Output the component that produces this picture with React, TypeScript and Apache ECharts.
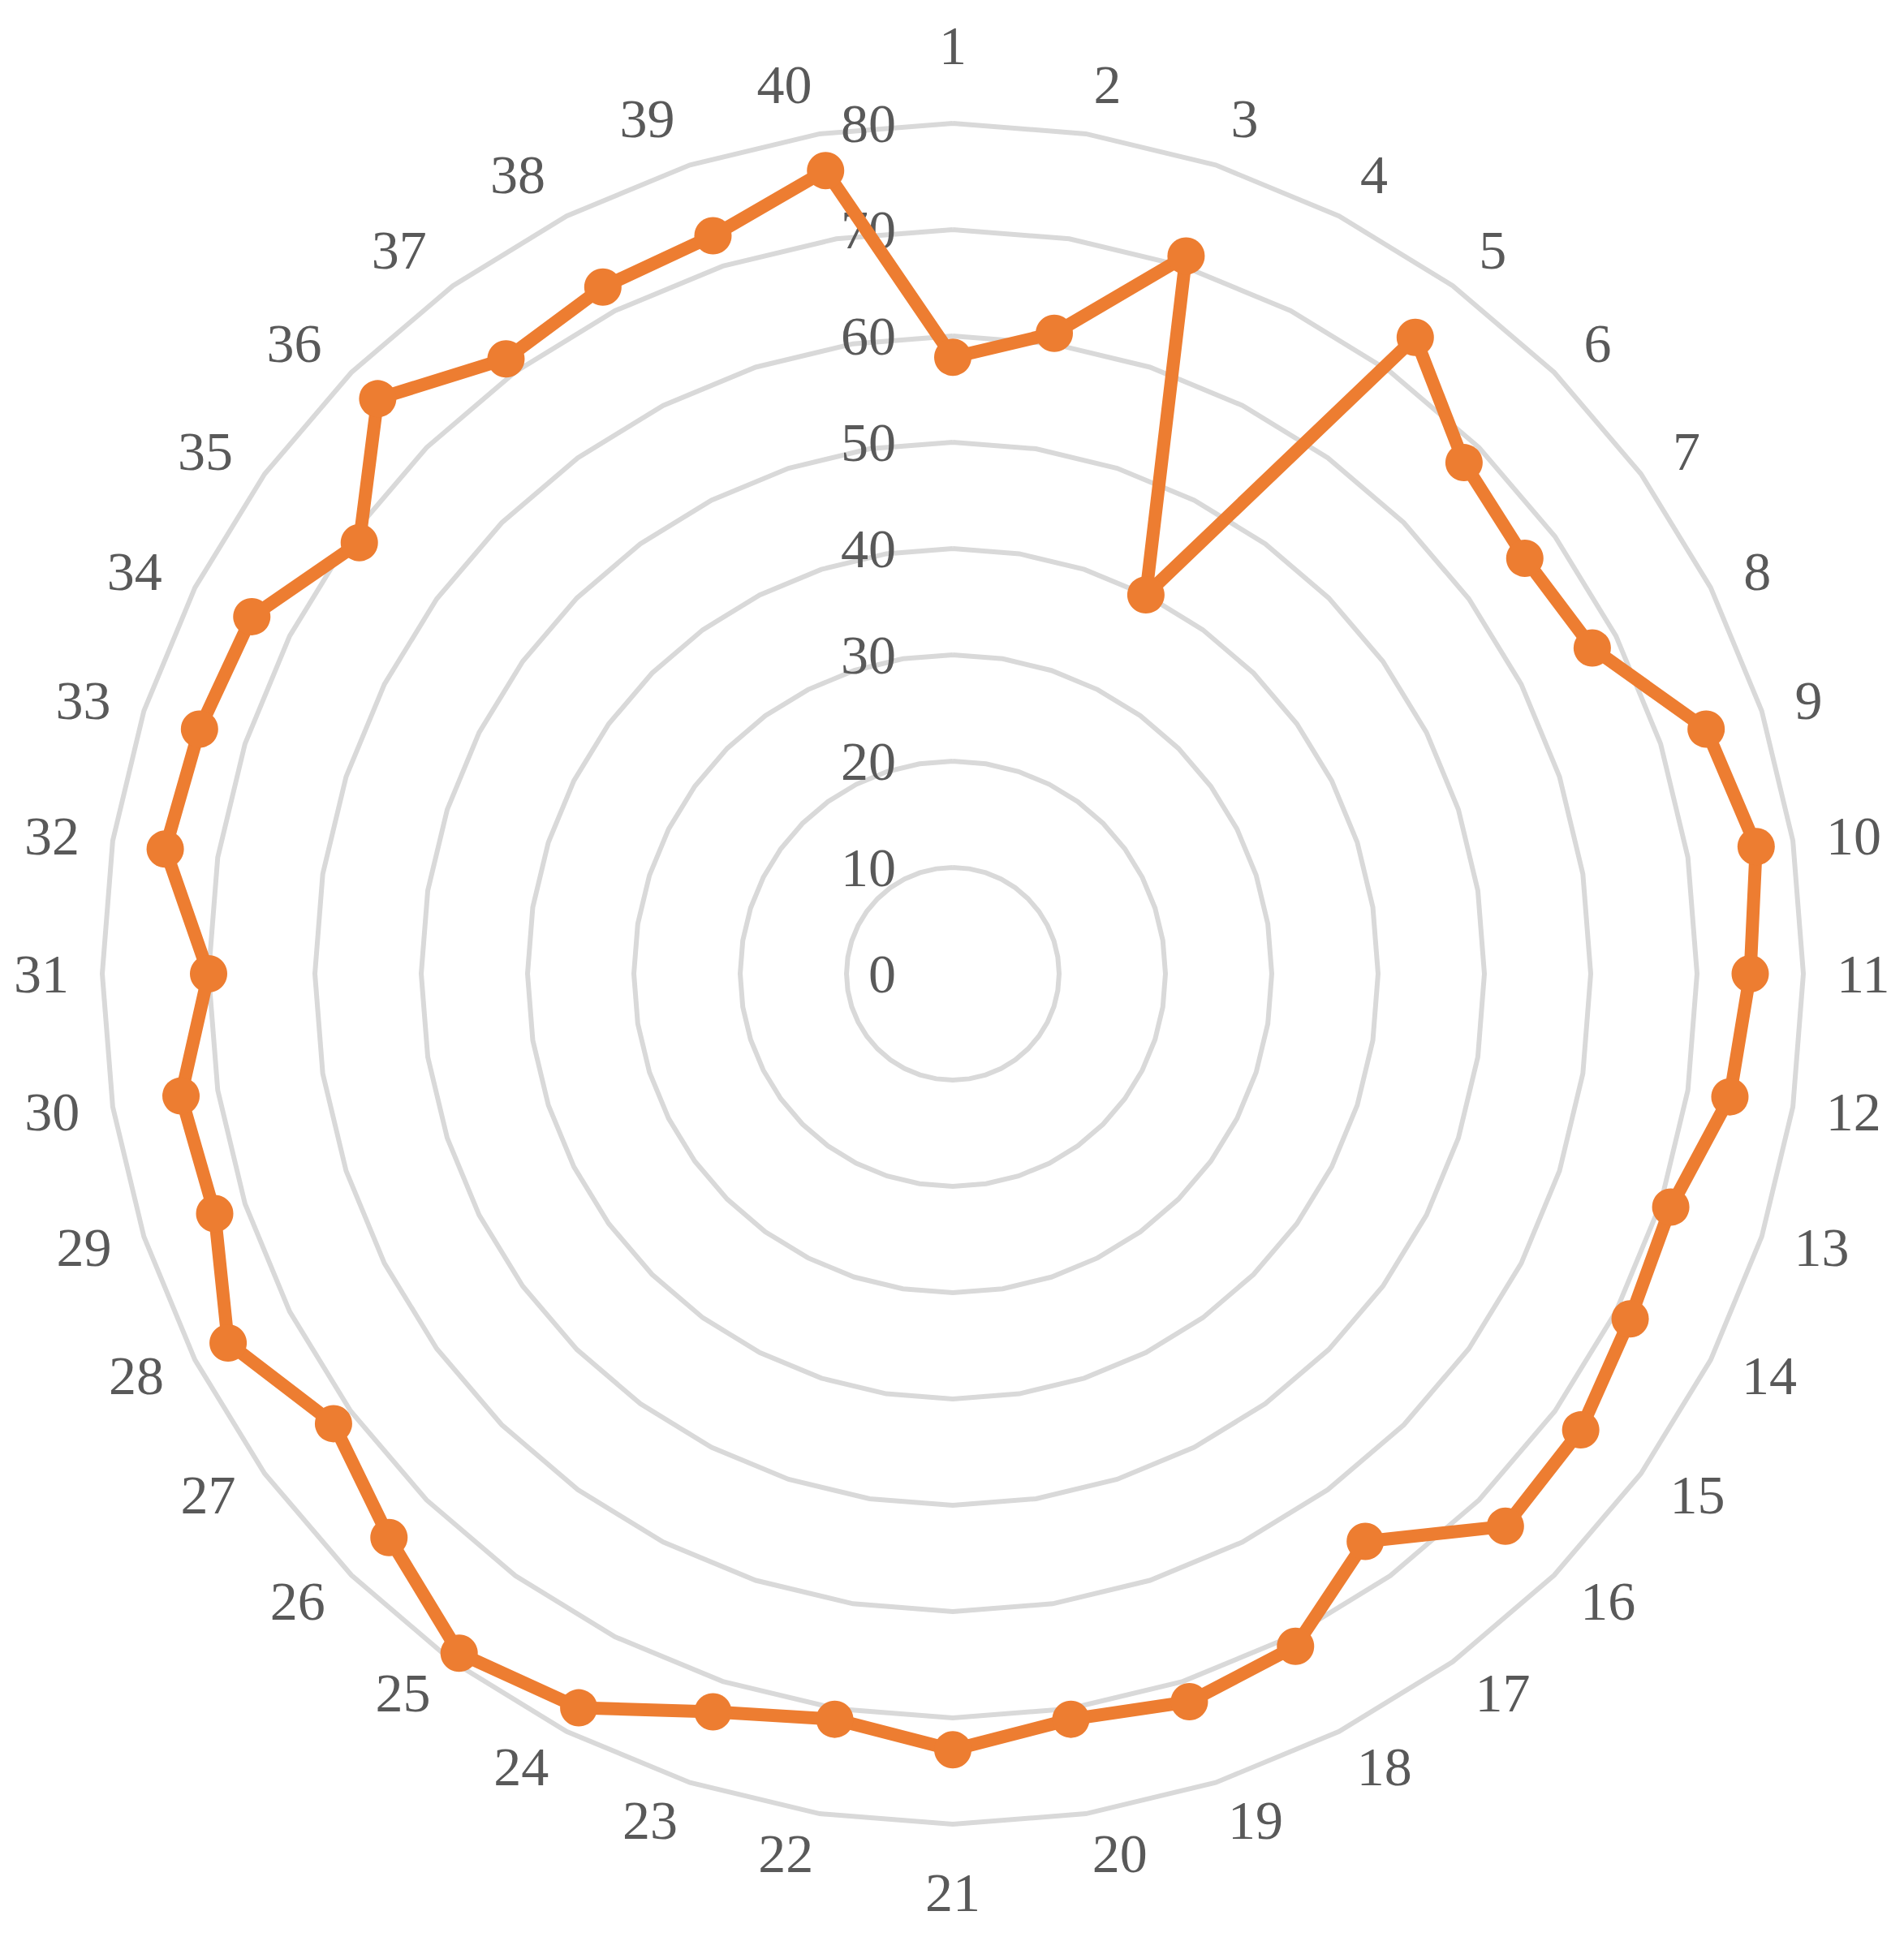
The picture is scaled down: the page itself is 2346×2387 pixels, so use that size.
import React, { useEffect, useRef } from "react";
import * as echarts from "echarts";

const categories: string[] = Array.from({ length: 40 }, (_, i) => String(i + 1));
const values: number[] = [
  58, 61, 71, 40, 74, 68, 66.5, 67.5, 74.5, 76.5,
  75, 74, 71, 71.5, 73, 73.5, 66, 71, 72, 71,
  73, 71, 73, 77.5, 79, 75, 72, 76.5, 73, 73.5,
  70, 75, 74.5, 74, 69, 76.5, 71.5, 72.5, 73, 76.5,
];
const axisMin = 0;
const axisMax = 80;

const FONT = "'Liberation Serif', 'DejaVu Serif', serif";

// ECharts radar runs counter-clockwise; reorder so categories run clockwise from the top.
const order: number[] = [0, ...Array.from({ length: categories.length - 1 }, (_, i) => categories.length - 1 - i)];

function gapFor(catIndex: number): number {
  const theta = (2 * Math.PI * catIndex) / categories.length;
  const c = Math.cos(theta);
  const s = Math.sin(theta);
  return 50 - 9 * s * s + 12 * Math.max(0, c) * Math.max(0, c);
}

export default function App() {
  const ref = useRef<HTMLDivElement>(null);
  useEffect(() => {
    if (!ref.current) return;
    const chart = echarts.init(ref.current, undefined, { renderer: "svg" });
    chart.setOption({
      animation: false,
      backgroundColor: "#ffffff",
      radar: {
        center: [1166, 1192],
        radius: 1048,
        startAngle: 90,
        shape: "polygon",
        splitNumber: 8,
        nameGap: 50,
        axisName: { color: "#595959", fontSize: 68, fontFamily: FONT },
        axisLine: { show: false },
        axisTick: { show: false },
        splitArea: { show: false },
        splitLine: { lineStyle: { color: "#D9D9D9", width: 6 } },
        axisLabel: { show: false, color: "#595959", fontSize: 68, fontFamily: FONT, margin: 70 },
        indicator: order.map((idx, i) =>
          i === 0
            ? { name: categories[idx], min: axisMin, max: axisMax, nameGap: gapFor(idx), axisLabel: { show: true } }
            : { name: categories[idx], min: axisMin, max: axisMax, nameGap: gapFor(idx) }
        ),
      },
      series: [
        {
          type: "radar",
          symbol: "circle",
          symbolSize: 46,
          lineStyle: { color: "#ED7D31", width: 16 },
          itemStyle: { color: "#ED7D31" },
          data: [{ value: order.map((idx) => values[idx]), name: "Series1" }],
        },
      ],
    });
    return () => chart.dispose();
  }, []);
  return <div ref={ref} style={{ width: 2330, height: 2371 }} />;
}
